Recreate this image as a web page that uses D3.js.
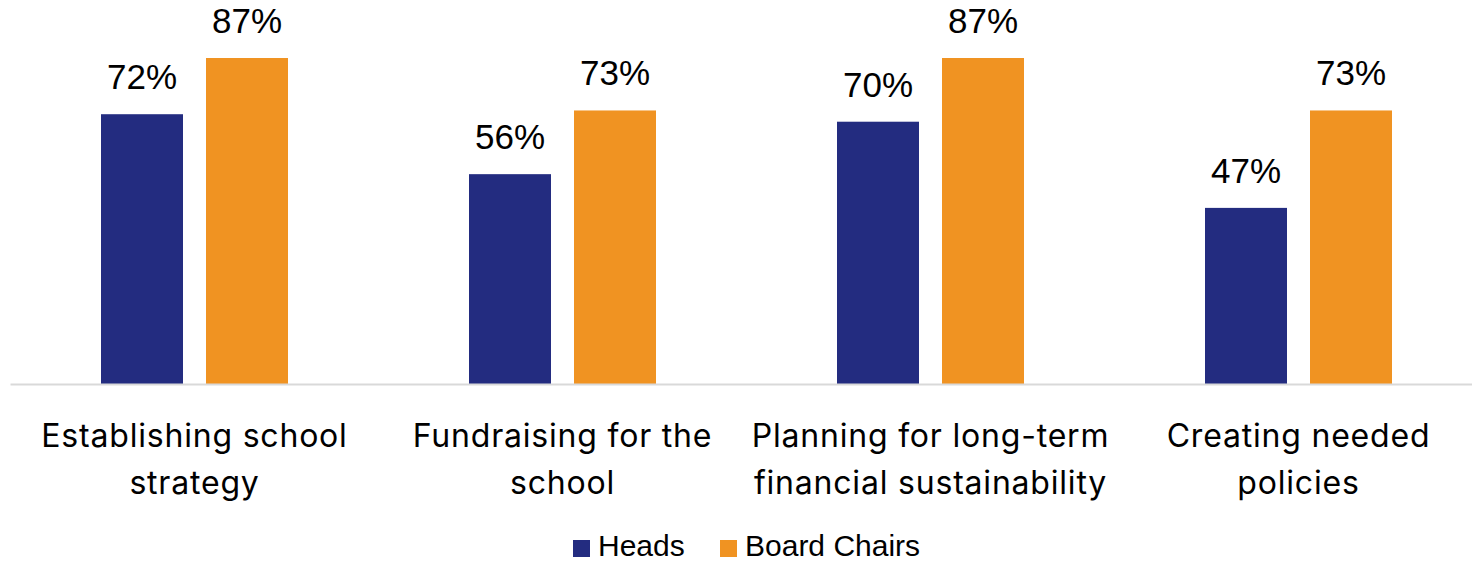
<!DOCTYPE html>
<html>
<head>
<meta charset="utf-8">
<script src="https://cdn.jsdelivr.net/npm/d3@7"></script>
<style>
  html, body { margin: 0; padding: 0; background: #ffffff; }
  svg { display: block; }
</style>
</head>
<body>
<svg id="chart" width="1472" height="561"></svg>
<script>
// Share of respondents naming each board responsibility
const categories = [
  ["Establishing school", "strategy"],
  ["Fundraising for the", "school"],
  ["Planning for long-term", "financial sustainability"],
  ["Creating needed", "policies"]
];
const seriesNames = ["Heads", "Board Chairs"];
const headsValues = [72, 56, 70, 47];
const chairsValues = [87, 73, 87, 73];
const seriesColors = ["#232C80", "#F09322"];

const svg = d3.select("#chart");
const width = 1472, height = 561;

const catKeys = categories.map(c => c.join(" "));
const seriesValues = [headsValues, chairsValues];

// Layout
const plotLeft = 10.5, plotRight = 1482.5;
const baseY = 384, topY = 9.3;

const x0 = d3.scaleBand().domain(catKeys).range([plotLeft, plotRight]).padding(0);
const groupW = x0.bandwidth();
const pairW = 187;
const x1 = d3.scaleBand()
  .domain(seriesNames)
  .range([(groupW - pairW) / 2, (groupW + pairW) / 2])
  .paddingInner(23 / 105)
  .paddingOuter(0);
const y = d3.scaleLinear().domain([0, 100]).range([baseY, topY]);

const labelFont = "'Liberation Sans', Arial, sans-serif";
const catFont = "Inter, 'Noto Sans', sans-serif";

// Bars and value labels
const groups = svg.append("g").selectAll("g")
  .data(catKeys)
  .join("g")
  .attr("transform", d => `translate(${x0(d)},0)`);

groups.each(function(cat, i) {
  const g = d3.select(this);
  seriesNames.forEach((s, si) => {
    const v = seriesValues[si][i];
    g.append("rect")
      .attr("x", x1(s))
      .attr("y", y(v))
      .attr("width", x1.bandwidth())
      .attr("height", y(0) - y(v))
      .attr("fill", seriesColors[si]);
    g.append("text")
      .attr("x", x1(s) + x1.bandwidth() / 2)
      .attr("y", y(v) - 25)
      .attr("text-anchor", "middle")
      .attr("font-family", labelFont)
      .attr("font-size", 35)
      .attr("fill", "#000")
      .text(v + "%");
  });
});

// Baseline axis
svg.append("line")
  .attr("x1", plotLeft).attr("x2", width)
  .attr("y1", baseY + 0.5).attr("y2", baseY + 0.5)
  .attr("stroke", "#D9D9D9")
  .attr("stroke-width", 2);

// Category labels (two lines each)
const catLabels = svg.append("g").selectAll("text")
  .data(categories)
  .join("text")
  .attr("text-anchor", "middle")
  .attr("font-family", catFont)
  .attr("font-size", 32)
  .attr("letter-spacing", 0.8)
  .attr("fill", "#000");

catLabels.each(function(lines, i) {
  const cx = x0(catKeys[i]) + groupW / 2;
  d3.select(this).selectAll("tspan")
    .data(lines)
    .join("tspan")
    .attr("x", cx)
    .attr("y", (d, j) => 446.5 + j * 47)
    .text(d => d);
});

// Legend
const legendItems = [
  { name: seriesNames[0], color: seriesColors[0], x: 573 },
  { name: seriesNames[1], color: seriesColors[1], x: 720 }
];
const legend = svg.append("g");
legendItems.forEach(item => {
  legend.append("rect")
    .attr("x", item.x).attr("y", 540)
    .attr("width", 17).attr("height", 17)
    .attr("fill", item.color);
  legend.append("text")
    .attr("x", item.x + 25)
    .attr("y", 556)
    .attr("font-family", labelFont)
    .attr("font-size", 30)
    .attr("fill", "#000")
    .text(item.name);
});
</script>
</body>
</html>
